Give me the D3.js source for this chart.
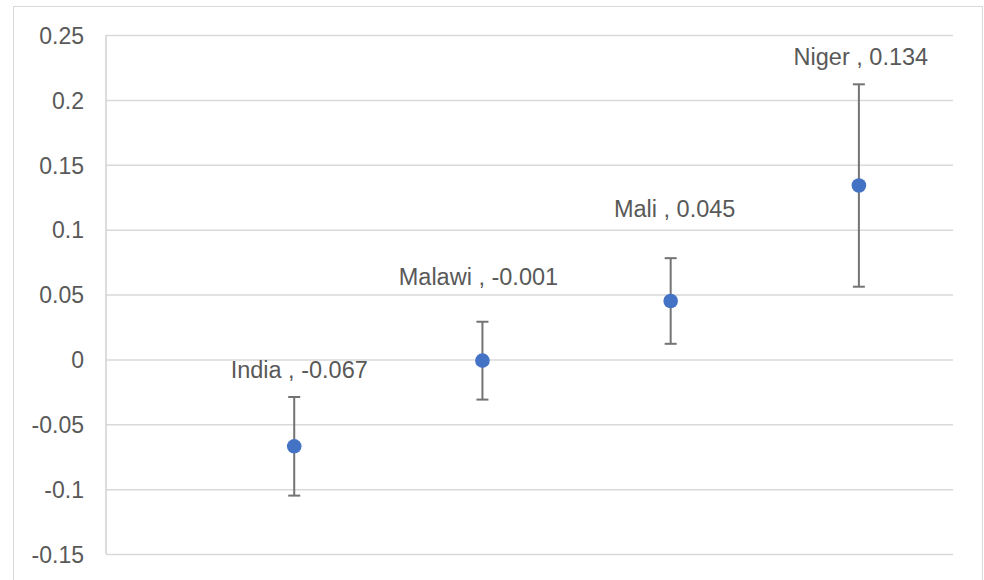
<!DOCTYPE html>
<html>
<head>
<meta charset="utf-8">
<script src="https://cdn.jsdelivr.net/npm/d3@7/dist/d3.min.js"></script>
<style>
  html, body { margin: 0; padding: 0; background: #fff; }
  svg { display: block; }
</style>
</head>
<body>
<svg id="chart" width="984" height="580"></svg>
<script>
// ---- data ----
const countries = ["India", "Malawi", "Mali", "Niger"];
const xPositions = [1, 2, 3, 4];
const estimates = [-0.067, -0.001, 0.045, 0.134];
const lowerCI = [-0.105, -0.031, 0.012, 0.056];
const upperCI = [-0.029, 0.029, 0.078, 0.212];
const yTicks = [-0.15, -0.1, -0.05, 0, 0.05, 0.1, 0.15, 0.2, 0.25];
const yTickLabels = ["-0.15", "-0.1", "-0.05", "0", "0.05", "0.1", "0.15", "0.2", "0.25"];

// ---- layout ----
const W = 984, H = 580;
const plot = { left: 106, right: 953, top: 35, bottom: 554 };
const labelGap = [19, 37, 41, 19]; // space between error-bar top and label baseline
const labelShift = [5, -4, 4, 2];  // horizontal nudge of each label

const svg = d3.select("#chart");
svg.append("rect").attr("x", 13.5).attr("y", 6.5).attr("width", 969).attr("height", 600)
  .attr("fill", "#fff").attr("stroke", "#d9d9d9").attr("stroke-width", 1);

const x = d3.scaleLinear().domain([0, 4.5]).range([plot.left, plot.right]);
const y = d3.scaleLinear().domain([-0.15, 0.25]).range([plot.bottom, plot.top]);

// gridlines
const yAxis = d3.axisLeft(y).tickValues(yTicks)
  .tickSize(-(plot.right - plot.left))
  .tickFormat((d, i) => yTickLabels[i]);
const gy = svg.append("g").attr("transform", `translate(${plot.left},0)`).call(yAxis);
gy.select(".domain").remove();
gy.selectAll(".tick line").attr("stroke", "#d9d9d9").attr("stroke-width", 1.5);
gy.selectAll(".tick text").attr("x", -22).attr("dy", "0.36em")
  .attr("fill", "#595959").style("font-family", "'Liberation Sans', Arial, sans-serif")
  .style("font-size", "23px");

// vertical axis line
svg.append("line").attr("x1", plot.left).attr("x2", plot.left)
  .attr("y1", plot.top).attr("y2", plot.bottom)
  .attr("stroke", "#d0d0d0").attr("stroke-width", 1.5);

const data = countries.map((c, i) => ({
  name: c, x: xPositions[i], v: estimates[i], lo: lowerCI[i], hi: upperCI[i],
  gap: labelGap[i], dx: labelShift[i]
}));

// error bars
const eb = svg.append("g").attr("stroke", "#737373").attr("stroke-width", 2);
data.forEach(d => {
  const cx = x(d.x);
  eb.append("line").attr("x1", cx).attr("x2", cx).attr("y1", y(d.hi)).attr("y2", y(d.lo));
  eb.append("line").attr("x1", cx - 6).attr("x2", cx + 6).attr("y1", y(d.hi)).attr("y2", y(d.hi));
  eb.append("line").attr("x1", cx - 6).attr("x2", cx + 6).attr("y1", y(d.lo)).attr("y2", y(d.lo));
});

// points
svg.append("g").selectAll("circle").data(data).join("circle")
  .attr("cx", d => x(d.x)).attr("cy", d => y(d.v)).attr("r", 7.3)
  .attr("fill", "#4472c4");

// labels
svg.append("g").selectAll("text").data(data).join("text")
  .attr("x", d => x(d.x) + d.dx).attr("y", d => y(d.hi) - d.gap)
  .attr("text-anchor", "middle")
  .attr("fill", "#595959")
  .style("font-family", "'Liberation Sans', Arial, sans-serif")
  .style("font-size", "23.5px")
  .text(d => `${d.name} , ${d3.format(".3f")(d.v).replace("−", "-")}`);
</script>
</body>
</html>
